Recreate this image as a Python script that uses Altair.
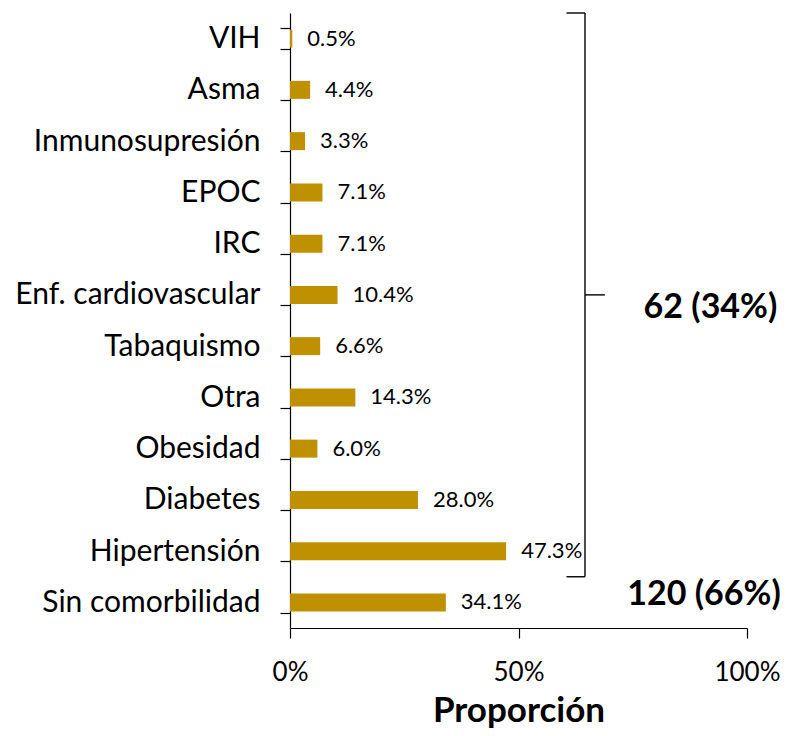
import altair as alt
import pandas as pd

categories = ["VIH", "Asma", "Inmunosupresión", "EPOC", "IRC", "Enf. cardiovascular",
              "Tabaquismo", "Otra", "Obesidad", "Diabetes", "Hipertensión", "Sin comorbilidad"]
values = [0.5, 4.4, 3.3, 7.1, 7.1, 10.4, 6.6, 14.3, 6.0, 28.0, 47.3, 34.1]
x_ticks = [0, 50, 100]

# bracket segments (x in %, y in category-row units, 0 = top of first row)
bracket_x = [60.5, 60.5, 64.55, 64.55]
bracket_x2 = [64.55, 64.55, 64.55, 68.9]
bracket_y = [0, 11, 0, 5.5]
bracket_y2 = [0, 11, 11, 5.5]

group_labels = ["62 (34%)", "120 (66%)"]
group_x = [92.0, 90.6]
group_y = [5.75, 11.35]

FONT = "Lato"
GOLD = "#BF9000"

df = pd.DataFrame({"cat": categories, "v": values})
bdf = pd.DataFrame({"x": bracket_x, "x2": bracket_x2, "y": bracket_y, "y2": bracket_y2})
gdf = pd.DataFrame({"label": group_labels, "x": group_x, "y": group_y})

xscale = alt.Scale(domain=[0, 100], nice=False)
yband = alt.Scale(domain=categories, paddingInner=0.6, paddingOuter=0.3)
yq = alt.Scale(domain=[0, 12], reverse=True, nice=False, zero=False)

yaxis = alt.Axis(title=None, tickBand="extent", tickSize=10, labelPadding=20, labelLimit=400,
                 labelFontSize=30, labelFont=FONT, labelColor="black", grid=False)

bars = alt.Chart(df).mark_bar(color=GOLD, size=18).encode(
    x=alt.X("v:Q", scale=xscale,
            axis=alt.Axis(values=x_ticks, labelExpr="datum.value + '%'", title="Proporción",
                          labelFontSize=26, labelFont=FONT, labelColor="black",
                          labelFlush=False, labelPadding=21, tickSize=10, grid=False,
                          titleFont=FONT, titleFontSize=35, titleFontWeight="bold",
                          titleColor="black", titlePadding=8)),
    y=alt.Y("cat:N", sort=categories, scale=yband, axis=yaxis),
)

vals = alt.Chart(df).transform_calculate(
    lab="format(datum.v, '.1f') + '%'"
).mark_text(align="left", baseline="middle", dx=15, fontSize=22, font=FONT, color="black").encode(
    x=alt.X("v:Q", scale=xscale),
    y=alt.Y("cat:N", sort=categories, scale=yband, axis=yaxis),
    text="lab:N",
)

left = alt.layer(bars, vals)

bracket = alt.Chart(bdf).mark_rule(color="black", strokeWidth=1.4).encode(
    x=alt.X("x:Q", scale=xscale),
    x2="x2:Q",
    y=alt.Y("y:Q", scale=yq, axis=None),
    y2="y2:Q",
)

glabels = alt.Chart(gdf).mark_text(align="center", baseline="middle", fontSize=34,
                                   fontWeight="bold", font=FONT, color="black").encode(
    x=alt.X("x:Q", scale=xscale),
    y=alt.Y("y:Q", scale=yq, axis=None),
    text="label:N",
)

right = alt.layer(bracket, glabels)

chart = alt.layer(left, right).resolve_scale(y="independent").properties(
    width=457, height=615,
    autosize=alt.AutoSizeParams(type="none"),
    padding={"left": 282, "top": 5, "right": 33, "bottom": 100},
).configure_view(stroke=None).configure_axis(
    domainColor="black", tickColor="black", domainWidth=1.2, tickWidth=1.2
)

chart.save("out.html", embed_options={"renderer": "svg", "actions": False})
